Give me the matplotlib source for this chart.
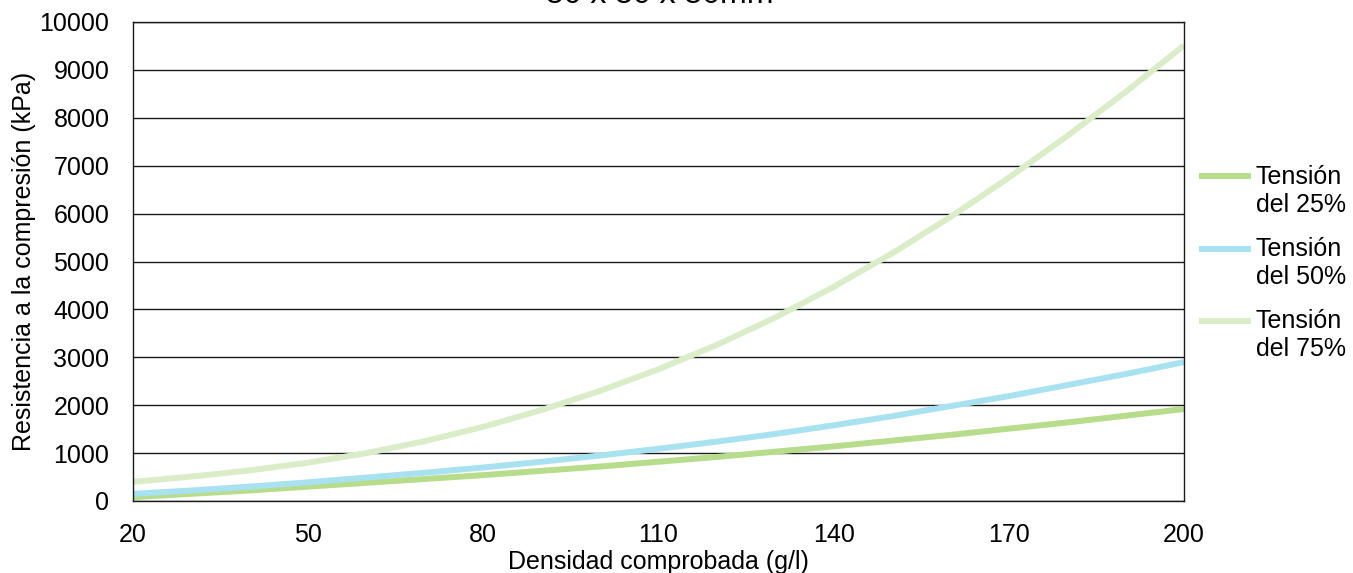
import matplotlib
matplotlib.use("Agg")
import matplotlib.pyplot as plt
from matplotlib.legend_handler import HandlerLine2D
from matplotlib.lines import Line2D

plt.rcParams["font.family"] = ["Liberation Sans", "DejaVu Sans"]

density = [20, 30, 40, 50, 60, 70, 80, 90, 100, 110, 120, 130, 140, 150, 160, 170, 180, 190, 200]
strain_25 = [80, 150, 220, 300, 380, 460, 540, 630, 720, 820, 920, 1030, 1140, 1260, 1380, 1510, 1640, 1780, 1920]
strain_50 = [150, 220, 300, 390, 490, 590, 700, 820, 950, 1090, 1240, 1400, 1580, 1770, 1980, 2190, 2420, 2650, 2900]
strain_75 = [400, 510, 640, 800, 1000, 1250, 1550, 1900, 2300, 2750, 3260, 3830, 4470, 5170, 5930, 6750, 7620, 8540, 9510]

labels = ["Tensión\ndel 25%", "Tensión\ndel 50%", "Tensión\ndel 75%"]
colors = ["#B7DD8C", "#A8E2F0", "#DAEDC8"]
x_ticks = [20, 50, 80, 110, 140, 170, 200]
y_ticks = list(range(0, 10001, 1000))


class RaisedLine(HandlerLine2D):
    # put the legend line next to the first text line, not the middle of the block
    def create_artists(self, legend, orig_handle, xdescent, ydescent, width, height, fontsize, trans):
        return super().create_artists(legend, orig_handle, xdescent, ydescent - 1.2 * fontsize,
                                      width, height, fontsize, trans)


fig = plt.figure(figsize=(13.53, 5.73), dpi=100)
ax = fig.add_axes([133 / 1353, 1 - 501 / 573, (1184 - 133) / 1353, (501 - 22) / 573])

for series, label, color in zip([strain_25, strain_50, strain_75], labels, colors):
    ax.plot(density, series, color=color, linewidth=4.3, label=label, solid_capstyle="butt")

ax.set_xlim(20, 200)
ax.set_ylim(0, 10000)
ax.set_xticks(x_ticks)
ax.set_yticks(y_ticks)
ax.tick_params(labelsize=18, length=0)
ax.tick_params(axis="x", pad=15.5)
ax.tick_params(axis="y", pad=17)
ax.grid(axis="y", color="#1a1a1a", linewidth=1.0)
ax.set_axisbelow(True)
for spine in ax.spines.values():
    spine.set_color("#1a1a1a")
    spine.set_linewidth(1.0)

ax.set_xlabel("Densidad comprobada (g/l)", fontsize=18)
ax.xaxis.set_label_coords(0.5, (501 - 569) / 479)
ax.xaxis.label.set_verticalalignment("baseline")
ax.set_ylabel("Resistencia a la compresión (kPa)", fontsize=18)
ax.yaxis.set_label_coords((24 - 133) / 1051, 0.5)
ax.yaxis.label.set_verticalalignment("center")

# title sits partly above the top edge, as in the source image
fig.text(660 / 1353, 1 - 3 / 573, "50 x 50 x 50mm", fontsize=23,
         ha="center", va="baseline")

ax.legend(loc="center left", bbox_to_anchor=(1.0, 0.497), frameon=False, fontsize=18,
          handlelength=2.08, handletextpad=0.2, labelspacing=0.82, borderaxespad=0.19,
          handler_map={Line2D: RaisedLine()})

fig.savefig("out.png", dpi=100)
